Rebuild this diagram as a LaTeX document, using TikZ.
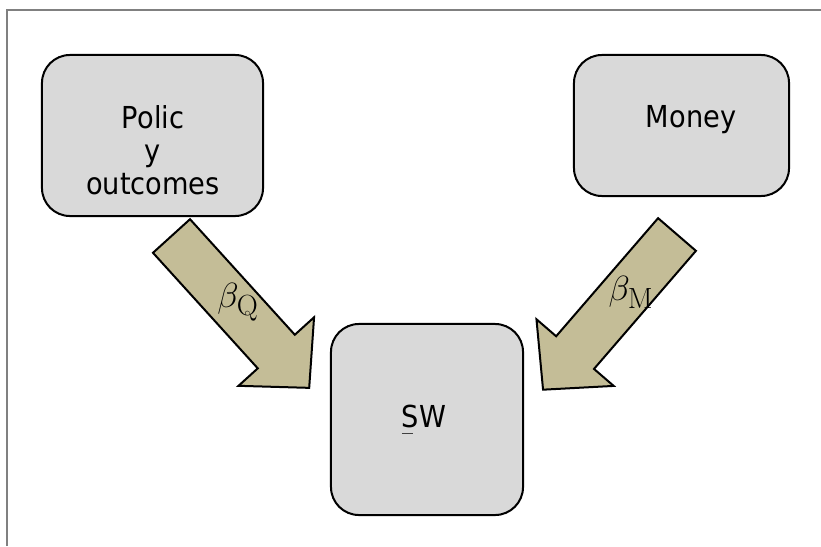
\documentclass[tikz,border=0pt]{standalone}
\usepackage[no-math]{fontspec}
\setmainfont{DejaVu Sans}[FakeStretch=0.9]
\usepackage{tikz}
\usetikzlibrary{calc}
\definecolor{boxgray}{HTML}{D9D9D9}
\definecolor{arrowtan}{HTML}{C4BD97}
\definecolor{framegray}{HTML}{808080}
\begin{document}
\begin{tikzpicture}[x=0.025cm,y=-0.025cm]
\tikzstyle{box}=[rectangle,draw,line width=0.5mm,fill=boxgray,rounded corners=0.7cm,inner sep=0]
\tikzstyle{txt}=[inner sep=0,align=center,font=\fontsize{21.5}{23.5}\selectfont]
\tikzstyle{blockarrow}=[draw,line width=0.5mm,fill=arrowtan,line join=miter]
\tikzstyle{weight}=[inner sep=0,font=\fontsize{24.88}{28}\selectfont]
\useasboundingbox (0,0) rectangle (821,546);
\draw[line width=0.5mm,framegray] (7,546) -- (7,10) -- (821,10);

% boxes
\node[box,minimum width=5.525cm,minimum height=4.025cm] at (152.5,135.5) (policy) {};
\node[box,minimum width=5.375cm,minimum height=3.525cm] at (681.5,125.5) (money) {};
\node[box,minimum width=4.8cm,minimum height=4.775cm] at (427,419.5) (sw) {};
\node[txt,anchor=north] at (153,105) (policytxt) {Polic\\y\\outcomes};
\node[txt,anchor=base] at (691,127) (moneytxt) {Money};
\node[txt,anchor=base] at (424,427) (swtxt) {\rlap{\color{darkgray}\rule[-4.6pt]{7.8pt}{0.5pt}}SW};

% weights
\coordinate (qtail) at (171.5,236);
\coordinate (mtail) at (677,234.5);
\draw[blockarrow,shift={(qtail)},rotate=-47.8] (0,-25) -- (156,-25) -- (156,-51) -- (205,0) -- (156,51) -- (156,25) -- (0,25) -- cycle;
\draw[blockarrow,shift={(mtail)},rotate=-130.8] (0,-25) -- (156,-25) -- (156,-51) -- (205,0) -- (156,51) -- (156,25) -- (0,25) -- cycle;
\node[weight] at (238,302) (bq) {$\beta_{\mathrm{Q}}$};
\node[weight] at (631,292) (bm) {$\beta_{\mathrm{M}}$};
\end{tikzpicture}
\end{document}
